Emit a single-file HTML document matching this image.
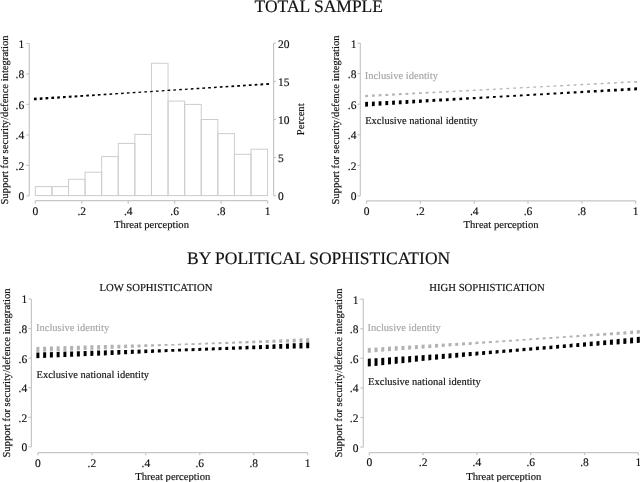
<!DOCTYPE html>
<html><head><meta charset="utf-8"><style>
html,body{margin:0;padding:0;background:#fff;width:640px;height:482px;overflow:hidden}
svg{display:block;will-change:transform;filter:blur(0.3px)}
text{font-family:"Liberation Serif",serif;text-rendering:geometricPrecision}
</style></head><body>
<svg width="640" height="482" viewBox="0 0 640 482">
<rect width="640" height="482" fill="#fff"/>
<text x="318.80" y="12.00" font-size="17.5" text-anchor="middle" fill="#111" stroke="#111" stroke-width="0.16" >TOTAL SAMPLE</text>
<text x="318.60" y="263.80" font-size="17.5" text-anchor="middle" fill="#111" stroke="#111" stroke-width="0.16" >BY POLITICAL SOPHISTICATION</text>
<rect x="35.30" y="186.60" width="16.59" height="9.00" fill="none" stroke="#cdcdcd" stroke-width="1"/>
<rect x="51.89" y="186.60" width="16.59" height="9.00" fill="none" stroke="#cdcdcd" stroke-width="1"/>
<rect x="68.49" y="179.30" width="16.59" height="16.30" fill="none" stroke="#cdcdcd" stroke-width="1"/>
<rect x="85.08" y="172.20" width="16.59" height="23.40" fill="none" stroke="#cdcdcd" stroke-width="1"/>
<rect x="101.67" y="156.60" width="16.59" height="39.00" fill="none" stroke="#cdcdcd" stroke-width="1"/>
<rect x="118.26" y="143.40" width="16.59" height="52.20" fill="none" stroke="#cdcdcd" stroke-width="1"/>
<rect x="134.86" y="134.40" width="16.59" height="61.20" fill="none" stroke="#cdcdcd" stroke-width="1"/>
<rect x="151.45" y="63.30" width="16.59" height="132.30" fill="none" stroke="#cdcdcd" stroke-width="1"/>
<rect x="168.04" y="101.10" width="16.59" height="94.50" fill="none" stroke="#cdcdcd" stroke-width="1"/>
<rect x="184.64" y="104.40" width="16.59" height="91.20" fill="none" stroke="#cdcdcd" stroke-width="1"/>
<rect x="201.23" y="119.50" width="16.59" height="76.10" fill="none" stroke="#cdcdcd" stroke-width="1"/>
<rect x="217.82" y="133.60" width="16.59" height="62.00" fill="none" stroke="#cdcdcd" stroke-width="1"/>
<rect x="234.41" y="154.30" width="16.59" height="41.30" fill="none" stroke="#cdcdcd" stroke-width="1"/>
<rect x="251.01" y="149.20" width="16.59" height="46.40" fill="none" stroke="#cdcdcd" stroke-width="1"/>
<line x1="29.30" y1="43.50" x2="29.30" y2="195.80" stroke="#c6c6c6" stroke-width="1.2"/>
<line x1="26.30" y1="195.80" x2="29.30" y2="195.80" stroke="#c6c6c6" stroke-width="1.2"/>
<text x="24.20" y="200.20" font-size="11.5" text-anchor="end" fill="#111111" stroke="#111111" stroke-width="0.16" >0</text>
<line x1="26.30" y1="165.34" x2="29.30" y2="165.34" stroke="#c6c6c6" stroke-width="1.2"/>
<text x="24.20" y="169.74" font-size="11.5" text-anchor="end" fill="#111111" stroke="#111111" stroke-width="0.16" >.2</text>
<line x1="26.30" y1="134.88" x2="29.30" y2="134.88" stroke="#c6c6c6" stroke-width="1.2"/>
<text x="24.20" y="139.28" font-size="11.5" text-anchor="end" fill="#111111" stroke="#111111" stroke-width="0.16" >.4</text>
<line x1="26.30" y1="104.42" x2="29.30" y2="104.42" stroke="#c6c6c6" stroke-width="1.2"/>
<text x="24.20" y="108.82" font-size="11.5" text-anchor="end" fill="#111111" stroke="#111111" stroke-width="0.16" >.6</text>
<line x1="26.30" y1="73.96" x2="29.30" y2="73.96" stroke="#c6c6c6" stroke-width="1.2"/>
<text x="24.20" y="78.36" font-size="11.5" text-anchor="end" fill="#111111" stroke="#111111" stroke-width="0.16" >.8</text>
<line x1="26.30" y1="43.50" x2="29.30" y2="43.50" stroke="#c6c6c6" stroke-width="1.2"/>
<text x="24.20" y="47.90" font-size="11.5" text-anchor="end" fill="#111111" stroke="#111111" stroke-width="0.16" >1</text>
<line x1="35.30" y1="200.70" x2="267.60" y2="200.70" stroke="#c6c6c6" stroke-width="1.2"/>
<line x1="35.30" y1="200.70" x2="35.30" y2="203.70" stroke="#c6c6c6" stroke-width="1.2"/>
<text x="35.30" y="215.00" font-size="11.5" text-anchor="middle" fill="#111111" stroke="#111111" stroke-width="0.16" >0</text>
<line x1="81.76" y1="200.70" x2="81.76" y2="203.70" stroke="#c6c6c6" stroke-width="1.2"/>
<text x="81.76" y="215.00" font-size="11.5" text-anchor="middle" fill="#111111" stroke="#111111" stroke-width="0.16" >.2</text>
<line x1="128.22" y1="200.70" x2="128.22" y2="203.70" stroke="#c6c6c6" stroke-width="1.2"/>
<text x="128.22" y="215.00" font-size="11.5" text-anchor="middle" fill="#111111" stroke="#111111" stroke-width="0.16" >.4</text>
<line x1="174.68" y1="200.70" x2="174.68" y2="203.70" stroke="#c6c6c6" stroke-width="1.2"/>
<text x="174.68" y="215.00" font-size="11.5" text-anchor="middle" fill="#111111" stroke="#111111" stroke-width="0.16" >.6</text>
<line x1="221.14" y1="200.70" x2="221.14" y2="203.70" stroke="#c6c6c6" stroke-width="1.2"/>
<text x="221.14" y="215.00" font-size="11.5" text-anchor="middle" fill="#111111" stroke="#111111" stroke-width="0.16" >.8</text>
<line x1="267.60" y1="200.70" x2="267.60" y2="203.70" stroke="#c6c6c6" stroke-width="1.2"/>
<text x="267.60" y="215.00" font-size="11.5" text-anchor="middle" fill="#111111" stroke="#111111" stroke-width="0.16" >1</text>
<text x="151.45" y="227.80" font-size="10.6" text-anchor="middle" fill="#111111" stroke="#111111" stroke-width="0.16" >Threat perception</text>
<text x="0" y="0" font-size="10.6" text-anchor="middle" fill="#111111" stroke="#111111" stroke-width="0.16" transform="translate(8.30,120.00) rotate(-90)">Support for security/defence integration</text>
<line x1="273.60" y1="43.20" x2="273.60" y2="195.60" stroke="#c6c6c6" stroke-width="1.2"/>
<line x1="273.60" y1="195.60" x2="275.90" y2="195.60" stroke="#c6c6c6" stroke-width="1.2"/>
<text x="277.90" y="200.00" font-size="11.5" text-anchor="start" fill="#111111" stroke="#111111" stroke-width="0.16" >0</text>
<line x1="273.60" y1="157.50" x2="275.90" y2="157.50" stroke="#c6c6c6" stroke-width="1.2"/>
<text x="277.90" y="161.90" font-size="11.5" text-anchor="start" fill="#111111" stroke="#111111" stroke-width="0.16" >5</text>
<line x1="273.60" y1="119.40" x2="275.90" y2="119.40" stroke="#c6c6c6" stroke-width="1.2"/>
<text x="277.90" y="123.80" font-size="11.5" text-anchor="start" fill="#111111" stroke="#111111" stroke-width="0.16" >10</text>
<line x1="273.60" y1="81.30" x2="275.90" y2="81.30" stroke="#c6c6c6" stroke-width="1.2"/>
<text x="277.90" y="85.70" font-size="11.5" text-anchor="start" fill="#111111" stroke="#111111" stroke-width="0.16" >15</text>
<line x1="273.60" y1="43.20" x2="275.90" y2="43.20" stroke="#c6c6c6" stroke-width="1.2"/>
<text x="277.90" y="47.60" font-size="11.5" text-anchor="start" fill="#111111" stroke="#111111" stroke-width="0.16" >20</text>
<text x="0" y="0" font-size="10.6" text-anchor="middle" fill="#111111" stroke="#111111" stroke-width="0.16" transform="translate(304.30,119.30) rotate(-90)">Percent</text>
<polygon points="33.95,97.72 36.65,97.56 36.65,100.14 33.95,100.32" fill="#000"/>
<polygon points="39.76,97.39 42.46,97.23 42.46,99.72 39.76,99.92" fill="#000"/>
<polygon points="45.56,97.06 48.27,96.90 48.27,99.30 45.56,99.50" fill="#000"/>
<polygon points="51.37,96.73 54.07,96.58 54.07,98.89 51.37,99.08" fill="#000"/>
<polygon points="57.18,96.40 59.88,96.25 59.88,98.47 57.18,98.66" fill="#000"/>
<polygon points="62.99,96.07 65.69,95.92 65.69,98.05 62.99,98.24" fill="#000"/>
<polygon points="68.80,95.74 71.50,95.59 71.50,97.63 68.80,97.83" fill="#000"/>
<polygon points="74.60,95.42 77.30,95.26 77.30,97.21 74.60,97.41" fill="#000"/>
<polygon points="80.41,95.09 83.11,94.94 83.11,96.79 80.41,96.99" fill="#000"/>
<polygon points="86.22,94.76 88.92,94.61 88.92,96.38 86.22,96.57" fill="#000"/>
<polygon points="92.03,94.43 94.72,94.27 94.72,95.96 92.03,96.15" fill="#000"/>
<polygon points="97.83,94.09 100.53,93.93 100.53,95.57 97.83,95.75" fill="#000"/>
<polygon points="103.64,93.74 106.34,93.58 106.34,95.17 103.64,95.35" fill="#000"/>
<polygon points="109.45,93.39 112.15,93.23 112.15,94.77 109.45,94.95" fill="#000"/>
<polygon points="115.26,93.04 117.95,92.88 117.95,94.37 115.26,94.56" fill="#000"/>
<polygon points="121.06,92.70 123.76,92.53 123.76,93.97 121.06,94.16" fill="#000"/>
<polygon points="126.87,92.35 129.57,92.19 129.57,93.57 126.87,93.76" fill="#000"/>
<polygon points="132.68,92.00 135.38,91.84 135.38,93.18 132.68,93.36" fill="#000"/>
<polygon points="138.49,91.65 141.19,91.49 141.19,92.78 138.49,92.96" fill="#000"/>
<polygon points="144.29,91.30 146.99,91.14 146.99,92.38 144.29,92.57" fill="#000"/>
<polygon points="150.10,90.96 152.80,90.78 152.80,91.99 150.10,92.17" fill="#000"/>
<polygon points="155.91,90.58 158.61,90.40 158.61,91.63 155.91,91.80" fill="#000"/>
<polygon points="161.72,90.19 164.41,90.01 164.41,91.27 161.72,91.44" fill="#000"/>
<polygon points="167.52,89.80 170.22,89.62 170.22,90.92 167.52,91.08" fill="#000"/>
<polygon points="173.33,89.41 176.03,89.23 176.03,90.56 173.33,90.73" fill="#000"/>
<polygon points="179.14,89.02 181.84,88.84 181.84,90.20 179.14,90.37" fill="#000"/>
<polygon points="184.95,88.64 187.65,88.46 187.65,89.84 184.95,90.01" fill="#000"/>
<polygon points="190.75,88.25 193.45,88.07 193.45,89.48 190.75,89.65" fill="#000"/>
<polygon points="196.56,87.86 199.26,87.68 199.26,89.13 196.56,89.29" fill="#000"/>
<polygon points="202.37,87.47 205.07,87.29 205.07,88.77 202.37,88.93" fill="#000"/>
<polygon points="208.17,87.08 210.87,86.90 210.87,88.41 208.17,88.58" fill="#000"/>
<polygon points="213.98,86.69 216.68,86.51 216.68,88.06 213.98,88.22" fill="#000"/>
<polygon points="219.79,86.30 222.49,86.12 222.49,87.70 219.79,87.87" fill="#000"/>
<polygon points="225.60,85.91 228.30,85.72 228.30,87.35 225.60,87.52" fill="#000"/>
<polygon points="231.41,85.51 234.10,85.33 234.10,87.00 231.41,87.16" fill="#000"/>
<polygon points="237.21,85.12 239.91,84.94 239.91,86.65 237.21,86.81" fill="#000"/>
<polygon points="243.02,84.73 245.72,84.54 245.72,86.29 243.02,86.46" fill="#000"/>
<polygon points="248.83,84.33 251.53,84.15 251.53,85.94 248.83,86.10" fill="#000"/>
<polygon points="254.64,83.94 257.34,83.76 257.34,85.59 254.64,85.75" fill="#000"/>
<polygon points="260.44,83.55 263.14,83.36 263.14,85.23 260.44,85.40" fill="#000"/>
<polygon points="266.25,83.15 268.95,82.98 268.95,84.88 266.25,85.04" fill="#000"/>
<line x1="360.30" y1="43.10" x2="360.30" y2="195.90" stroke="#c6c6c6" stroke-width="1.2"/>
<line x1="357.30" y1="195.90" x2="360.30" y2="195.90" stroke="#c6c6c6" stroke-width="1.2"/>
<text x="356.40" y="200.30" font-size="11.5" text-anchor="end" fill="#111111" stroke="#111111" stroke-width="0.16" >0</text>
<line x1="357.30" y1="165.34" x2="360.30" y2="165.34" stroke="#c6c6c6" stroke-width="1.2"/>
<text x="356.40" y="169.74" font-size="11.5" text-anchor="end" fill="#111111" stroke="#111111" stroke-width="0.16" >.2</text>
<line x1="357.30" y1="134.78" x2="360.30" y2="134.78" stroke="#c6c6c6" stroke-width="1.2"/>
<text x="356.40" y="139.18" font-size="11.5" text-anchor="end" fill="#111111" stroke="#111111" stroke-width="0.16" >.4</text>
<line x1="357.30" y1="104.22" x2="360.30" y2="104.22" stroke="#c6c6c6" stroke-width="1.2"/>
<text x="356.40" y="108.62" font-size="11.5" text-anchor="end" fill="#111111" stroke="#111111" stroke-width="0.16" >.6</text>
<line x1="357.30" y1="73.66" x2="360.30" y2="73.66" stroke="#c6c6c6" stroke-width="1.2"/>
<text x="356.40" y="78.06" font-size="11.5" text-anchor="end" fill="#111111" stroke="#111111" stroke-width="0.16" >.8</text>
<line x1="357.30" y1="43.10" x2="360.30" y2="43.10" stroke="#c6c6c6" stroke-width="1.2"/>
<text x="356.40" y="47.50" font-size="11.5" text-anchor="end" fill="#111111" stroke="#111111" stroke-width="0.16" >1</text>
<line x1="366.60" y1="200.80" x2="635.60" y2="200.80" stroke="#c6c6c6" stroke-width="1.2"/>
<line x1="366.60" y1="200.80" x2="366.60" y2="203.70" stroke="#c6c6c6" stroke-width="1.2"/>
<text x="366.60" y="214.60" font-size="11.5" text-anchor="middle" fill="#111111" stroke="#111111" stroke-width="0.16" >0</text>
<line x1="420.40" y1="200.80" x2="420.40" y2="203.70" stroke="#c6c6c6" stroke-width="1.2"/>
<text x="420.40" y="214.60" font-size="11.5" text-anchor="middle" fill="#111111" stroke="#111111" stroke-width="0.16" >.2</text>
<line x1="474.20" y1="200.80" x2="474.20" y2="203.70" stroke="#c6c6c6" stroke-width="1.2"/>
<text x="474.20" y="214.60" font-size="11.5" text-anchor="middle" fill="#111111" stroke="#111111" stroke-width="0.16" >.4</text>
<line x1="528.00" y1="200.80" x2="528.00" y2="203.70" stroke="#c6c6c6" stroke-width="1.2"/>
<text x="528.00" y="214.60" font-size="11.5" text-anchor="middle" fill="#111111" stroke="#111111" stroke-width="0.16" >.6</text>
<line x1="581.80" y1="200.80" x2="581.80" y2="203.70" stroke="#c6c6c6" stroke-width="1.2"/>
<text x="581.80" y="214.60" font-size="11.5" text-anchor="middle" fill="#111111" stroke="#111111" stroke-width="0.16" >.8</text>
<line x1="635.60" y1="200.80" x2="635.60" y2="203.70" stroke="#c6c6c6" stroke-width="1.2"/>
<text x="635.60" y="214.60" font-size="11.5" text-anchor="middle" fill="#111111" stroke="#111111" stroke-width="0.16" >1</text>
<text x="501.10" y="227.80" font-size="10.6" text-anchor="middle" fill="#111111" stroke="#111111" stroke-width="0.16" >Threat perception</text>
<text x="0" y="0" font-size="10.6" text-anchor="middle" fill="#111111" stroke="#111111" stroke-width="0.16" transform="translate(339.00,120.00) rotate(-90)">Support for security/defence integration</text>
<text x="364.70" y="78.50" font-size="10.5" text-anchor="start" fill="#a6a6a6" stroke="#a6a6a6" stroke-width="0.16" >Inclusive identity</text>
<text x="365.20" y="124.10" font-size="10.5" text-anchor="start" fill="#111111" stroke="#111111" stroke-width="0.16" >Exclusive national identity</text>
<polygon points="365.20,94.89 368.00,94.75 368.00,97.04 365.20,97.19" fill="#b2b2b2"/>
<polygon points="371.93,94.56 374.73,94.43 374.73,96.65 371.93,96.81" fill="#b2b2b2"/>
<polygon points="378.65,94.24 381.45,94.10 381.45,96.27 378.65,96.43" fill="#b2b2b2"/>
<polygon points="385.38,93.91 388.18,93.78 388.18,95.88 385.38,96.04" fill="#b2b2b2"/>
<polygon points="392.10,93.59 394.90,93.45 394.90,95.50 392.10,95.66" fill="#b2b2b2"/>
<polygon points="398.83,93.26 401.62,93.12 401.62,95.11 398.83,95.27" fill="#b2b2b2"/>
<polygon points="405.55,92.93 408.35,92.80 408.35,94.73 405.55,94.89" fill="#b2b2b2"/>
<polygon points="412.28,92.61 415.07,92.47 415.07,94.34 412.28,94.50" fill="#b2b2b2"/>
<polygon points="419.00,92.28 421.80,92.15 421.80,93.96 419.00,94.12" fill="#b2b2b2"/>
<polygon points="425.73,91.96 428.52,91.82 428.52,93.57 425.73,93.73" fill="#b2b2b2"/>
<polygon points="432.45,91.63 435.25,91.50 435.25,93.19 432.45,93.35" fill="#b2b2b2"/>
<polygon points="439.18,91.30 441.98,91.17 441.98,92.81 439.18,92.97" fill="#b2b2b2"/>
<polygon points="445.90,90.97 448.70,90.84 448.70,92.43 445.90,92.58" fill="#b2b2b2"/>
<polygon points="452.63,90.64 455.43,90.51 455.43,92.05 452.63,92.20" fill="#b2b2b2"/>
<polygon points="459.35,90.31 462.15,90.18 462.15,91.67 459.35,91.82" fill="#b2b2b2"/>
<polygon points="466.08,89.98 468.88,89.85 468.88,91.29 466.08,91.44" fill="#b2b2b2"/>
<polygon points="472.80,89.65 475.60,89.52 475.60,90.91 472.80,91.06" fill="#b2b2b2"/>
<polygon points="479.53,89.32 482.32,89.19 482.32,90.53 479.53,90.68" fill="#b2b2b2"/>
<polygon points="486.25,88.99 489.05,88.86 489.05,90.14 486.25,90.30" fill="#b2b2b2"/>
<polygon points="492.98,88.66 495.77,88.53 495.77,89.76 492.98,89.92" fill="#b2b2b2"/>
<polygon points="499.70,88.33 502.50,88.19 502.50,89.39 499.70,89.54" fill="#b2b2b2"/>
<polygon points="506.43,87.98 509.23,87.83 509.23,89.04 506.43,89.19" fill="#b2b2b2"/>
<polygon points="513.15,87.62 515.95,87.47 515.95,88.69 513.15,88.84" fill="#b2b2b2"/>
<polygon points="519.88,87.26 522.68,87.11 522.68,88.34 519.88,88.49" fill="#b2b2b2"/>
<polygon points="526.60,86.90 529.40,86.75 529.40,87.99 526.60,88.14" fill="#b2b2b2"/>
<polygon points="533.33,86.54 536.12,86.39 536.12,87.64 533.33,87.79" fill="#b2b2b2"/>
<polygon points="540.05,86.18 542.85,86.03 542.85,87.29 540.05,87.43" fill="#b2b2b2"/>
<polygon points="546.77,85.82 549.57,85.67 549.57,86.94 546.77,87.08" fill="#b2b2b2"/>
<polygon points="553.50,85.46 556.30,85.31 556.30,86.59 553.50,86.73" fill="#b2b2b2"/>
<polygon points="560.23,85.10 563.02,84.95 563.02,86.24 560.23,86.38" fill="#b2b2b2"/>
<polygon points="566.95,84.74 569.75,84.58 569.75,85.89 566.95,86.03" fill="#b2b2b2"/>
<polygon points="573.68,84.37 576.48,84.21 576.48,85.55 573.68,85.69" fill="#b2b2b2"/>
<polygon points="580.40,84.00 583.20,83.84 583.20,85.21 580.40,85.35" fill="#b2b2b2"/>
<polygon points="587.13,83.63 589.93,83.47 589.93,84.87 587.13,85.01" fill="#b2b2b2"/>
<polygon points="593.85,83.26 596.65,83.10 596.65,84.53 593.85,84.67" fill="#b2b2b2"/>
<polygon points="600.58,82.89 603.38,82.73 603.38,84.19 600.58,84.33" fill="#b2b2b2"/>
<polygon points="607.30,82.52 610.10,82.36 610.10,83.85 607.30,83.99" fill="#b2b2b2"/>
<polygon points="614.02,82.15 616.82,81.99 616.82,83.51 614.02,83.65" fill="#b2b2b2"/>
<polygon points="620.75,81.78 623.55,81.62 623.55,83.17 620.75,83.31" fill="#b2b2b2"/>
<polygon points="627.48,81.41 630.27,81.25 630.27,82.83 627.48,82.97" fill="#b2b2b2"/>
<polygon points="634.20,81.04 637.00,80.88 637.00,82.48 634.20,82.63" fill="#b2b2b2"/>
<polygon points="365.20,101.95 368.00,101.81 368.00,106.47 365.20,106.65" fill="#000"/>
<polygon points="371.93,101.63 374.73,101.51 374.73,106.01 371.93,106.20" fill="#000"/>
<polygon points="378.65,101.33 381.45,101.20 381.45,105.55 378.65,105.74" fill="#000"/>
<polygon points="385.38,101.03 388.18,100.90 388.18,105.09 385.38,105.28" fill="#000"/>
<polygon points="392.10,100.72 394.90,100.60 394.90,104.63 392.10,104.82" fill="#000"/>
<polygon points="398.83,100.42 401.62,100.30 401.62,104.16 398.83,104.36" fill="#000"/>
<polygon points="405.55,100.12 408.35,100.00 408.35,103.70 405.55,103.89" fill="#000"/>
<polygon points="412.28,99.82 415.07,99.69 415.07,103.24 412.28,103.43" fill="#000"/>
<polygon points="419.00,99.52 421.80,99.39 421.80,102.78 419.00,102.97" fill="#000"/>
<polygon points="425.73,99.21 428.52,99.09 428.52,102.32 425.73,102.51" fill="#000"/>
<polygon points="432.45,98.91 435.25,98.78 435.25,101.86 432.45,102.05" fill="#000"/>
<polygon points="439.18,98.60 441.98,98.47 441.98,101.41 439.18,101.60" fill="#000"/>
<polygon points="445.90,98.28 448.70,98.15 448.70,100.96 445.90,101.15" fill="#000"/>
<polygon points="452.63,97.96 455.43,97.83 455.43,100.52 452.63,100.70" fill="#000"/>
<polygon points="459.35,97.65 462.15,97.52 462.15,100.07 459.35,100.26" fill="#000"/>
<polygon points="466.08,97.33 468.88,97.20 468.88,99.62 466.08,99.81" fill="#000"/>
<polygon points="472.80,97.01 475.60,96.88 475.60,99.17 472.80,99.36" fill="#000"/>
<polygon points="479.53,96.70 482.32,96.57 482.32,98.73 479.53,98.91" fill="#000"/>
<polygon points="486.25,96.38 489.05,96.25 489.05,98.28 486.25,98.47" fill="#000"/>
<polygon points="492.98,96.06 495.77,95.93 495.77,97.83 492.98,98.02" fill="#000"/>
<polygon points="499.70,95.75 502.50,95.60 502.50,97.40 499.70,97.57" fill="#000"/>
<polygon points="506.43,95.37 509.23,95.20 509.23,97.04 506.43,97.19" fill="#000"/>
<polygon points="513.15,94.97 515.95,94.80 515.95,96.67 513.15,96.82" fill="#000"/>
<polygon points="519.88,94.57 522.68,94.41 522.68,96.30 519.88,96.46" fill="#000"/>
<polygon points="526.60,94.17 529.40,94.01 529.40,95.94 526.60,96.09" fill="#000"/>
<polygon points="533.33,93.78 536.12,93.61 536.12,95.57 533.33,95.72" fill="#000"/>
<polygon points="540.05,93.38 542.85,93.22 542.85,95.20 540.05,95.35" fill="#000"/>
<polygon points="546.77,92.98 549.57,92.82 549.57,94.83 546.77,94.99" fill="#000"/>
<polygon points="553.50,92.59 556.30,92.42 556.30,94.47 553.50,94.62" fill="#000"/>
<polygon points="560.23,92.19 563.02,92.02 563.02,94.10 560.23,94.25" fill="#000"/>
<polygon points="566.95,91.79 569.75,91.62 569.75,93.74 566.95,93.89" fill="#000"/>
<polygon points="573.68,91.37 576.48,91.19 576.48,93.40 573.68,93.54" fill="#000"/>
<polygon points="580.40,90.94 583.20,90.77 583.20,93.07 580.40,93.21" fill="#000"/>
<polygon points="587.13,90.52 589.93,90.34 589.93,92.73 587.13,92.87" fill="#000"/>
<polygon points="593.85,90.09 596.65,89.91 596.65,92.39 593.85,92.53" fill="#000"/>
<polygon points="600.58,89.66 603.38,89.49 603.38,92.05 600.58,92.20" fill="#000"/>
<polygon points="607.30,89.24 610.10,89.06 610.10,91.72 607.30,91.86" fill="#000"/>
<polygon points="614.02,88.81 616.82,88.63 616.82,91.38 614.02,91.52" fill="#000"/>
<polygon points="620.75,88.38 623.55,88.21 623.55,91.04 620.75,91.18" fill="#000"/>
<polygon points="627.48,87.96 630.27,87.78 630.27,90.71 627.48,90.85" fill="#000"/>
<polygon points="634.20,87.53 637.00,87.36 637.00,90.36 634.20,90.51" fill="#000"/>
<text x="155.90" y="290.90" font-size="10.7" text-anchor="middle" fill="#111111" stroke="#111111" stroke-width="0.16" >LOW SOPHISTICATION</text>
<line x1="31.40" y1="299.00" x2="31.40" y2="446.80" stroke="#c6c6c6" stroke-width="1.2"/>
<line x1="28.40" y1="446.80" x2="31.40" y2="446.80" stroke="#c6c6c6" stroke-width="1.2"/>
<text x="27.20" y="451.20" font-size="11.5" text-anchor="end" fill="#111111" stroke="#111111" stroke-width="0.16" >0</text>
<line x1="28.40" y1="417.24" x2="31.40" y2="417.24" stroke="#c6c6c6" stroke-width="1.2"/>
<text x="27.20" y="421.64" font-size="11.5" text-anchor="end" fill="#111111" stroke="#111111" stroke-width="0.16" >.2</text>
<line x1="28.40" y1="387.68" x2="31.40" y2="387.68" stroke="#c6c6c6" stroke-width="1.2"/>
<text x="27.20" y="392.08" font-size="11.5" text-anchor="end" fill="#111111" stroke="#111111" stroke-width="0.16" >.4</text>
<line x1="28.40" y1="358.12" x2="31.40" y2="358.12" stroke="#c6c6c6" stroke-width="1.2"/>
<text x="27.20" y="362.52" font-size="11.5" text-anchor="end" fill="#111111" stroke="#111111" stroke-width="0.16" >.6</text>
<line x1="28.40" y1="328.56" x2="31.40" y2="328.56" stroke="#c6c6c6" stroke-width="1.2"/>
<text x="27.20" y="332.96" font-size="11.5" text-anchor="end" fill="#111111" stroke="#111111" stroke-width="0.16" >.8</text>
<line x1="28.40" y1="299.00" x2="31.40" y2="299.00" stroke="#c6c6c6" stroke-width="1.2"/>
<text x="27.20" y="303.40" font-size="11.5" text-anchor="end" fill="#111111" stroke="#111111" stroke-width="0.16" >1</text>
<line x1="37.90" y1="452.70" x2="307.70" y2="452.70" stroke="#c6c6c6" stroke-width="1.2"/>
<line x1="37.90" y1="452.70" x2="37.90" y2="455.30" stroke="#c6c6c6" stroke-width="1.2"/>
<text x="37.90" y="466.60" font-size="11.5" text-anchor="middle" fill="#111111" stroke="#111111" stroke-width="0.16" >0</text>
<line x1="91.86" y1="452.70" x2="91.86" y2="455.30" stroke="#c6c6c6" stroke-width="1.2"/>
<text x="91.86" y="466.60" font-size="11.5" text-anchor="middle" fill="#111111" stroke="#111111" stroke-width="0.16" >.2</text>
<line x1="145.82" y1="452.70" x2="145.82" y2="455.30" stroke="#c6c6c6" stroke-width="1.2"/>
<text x="145.82" y="466.60" font-size="11.5" text-anchor="middle" fill="#111111" stroke="#111111" stroke-width="0.16" >.4</text>
<line x1="199.78" y1="452.70" x2="199.78" y2="455.30" stroke="#c6c6c6" stroke-width="1.2"/>
<text x="199.78" y="466.60" font-size="11.5" text-anchor="middle" fill="#111111" stroke="#111111" stroke-width="0.16" >.6</text>
<line x1="253.74" y1="452.70" x2="253.74" y2="455.30" stroke="#c6c6c6" stroke-width="1.2"/>
<text x="253.74" y="466.60" font-size="11.5" text-anchor="middle" fill="#111111" stroke="#111111" stroke-width="0.16" >.8</text>
<line x1="307.70" y1="452.70" x2="307.70" y2="455.30" stroke="#c6c6c6" stroke-width="1.2"/>
<text x="307.70" y="466.60" font-size="11.5" text-anchor="middle" fill="#111111" stroke="#111111" stroke-width="0.16" >1</text>
<text x="172.80" y="480.00" font-size="10.6" text-anchor="middle" fill="#111111" stroke="#111111" stroke-width="0.16" >Threat perception</text>
<text x="0" y="0" font-size="10.6" text-anchor="middle" fill="#111111" stroke="#111111" stroke-width="0.16" transform="translate(10.30,373.00) rotate(-90)">Support for security/defence integration</text>
<text x="36.00" y="331.30" font-size="10.5" text-anchor="start" fill="#a6a6a6" stroke="#a6a6a6" stroke-width="0.16" >Inclusive identity</text>
<text x="36.50" y="377.90" font-size="10.5" text-anchor="start" fill="#111111" stroke="#111111" stroke-width="0.16" >Exclusive national identity</text>
<polygon points="36.40,346.95 39.40,346.86 39.40,351.84 36.40,351.95" fill="#b2b2b2"/>
<polygon points="43.14,346.75 46.14,346.66 46.14,351.57 43.14,351.69" fill="#b2b2b2"/>
<polygon points="49.89,346.55 52.89,346.46 52.89,351.30 49.89,351.42" fill="#b2b2b2"/>
<polygon points="56.64,346.35 59.64,346.26 59.64,351.04 56.64,351.16" fill="#b2b2b2"/>
<polygon points="63.38,346.15 66.38,346.06 66.38,350.77 63.38,350.89" fill="#b2b2b2"/>
<polygon points="70.12,345.95 73.12,345.87 73.12,350.50 70.12,350.62" fill="#b2b2b2"/>
<polygon points="76.87,345.76 79.87,345.67 79.87,350.23 76.87,350.35" fill="#b2b2b2"/>
<polygon points="83.62,345.56 86.62,345.47 86.62,349.97 83.62,350.08" fill="#b2b2b2"/>
<polygon points="90.36,345.36 93.36,345.27 93.36,349.70 90.36,349.82" fill="#b2b2b2"/>
<polygon points="97.11,345.16 100.11,345.08 100.11,349.43 97.11,349.55" fill="#b2b2b2"/>
<polygon points="103.85,344.97 106.85,344.90 106.85,349.14 103.85,349.28" fill="#b2b2b2"/>
<polygon points="110.59,344.85 113.59,344.80 113.59,348.77 110.59,348.94" fill="#b2b2b2"/>
<polygon points="117.34,344.75 120.34,344.70 120.34,348.40 117.34,348.57" fill="#b2b2b2"/>
<polygon points="124.09,344.65 127.09,344.61 127.09,348.04 124.09,348.20" fill="#b2b2b2"/>
<polygon points="130.83,344.55 133.83,344.51 133.83,347.67 130.83,347.83" fill="#b2b2b2"/>
<polygon points="137.57,344.45 140.57,344.41 140.57,347.30 137.57,347.46" fill="#b2b2b2"/>
<polygon points="144.32,344.36 147.32,344.31 147.32,346.93 144.32,347.10" fill="#b2b2b2"/>
<polygon points="151.06,344.26 154.06,344.22 154.06,346.57 151.06,346.73" fill="#b2b2b2"/>
<polygon points="157.81,344.16 160.81,344.12 160.81,346.20 157.81,346.36" fill="#b2b2b2"/>
<polygon points="164.56,344.06 167.56,344.02 167.56,345.83 164.56,345.99" fill="#b2b2b2"/>
<polygon points="171.30,343.97 174.30,343.89 174.30,345.50 171.30,345.63" fill="#b2b2b2"/>
<polygon points="178.05,343.74 181.05,343.62 181.05,345.30 178.05,345.39" fill="#b2b2b2"/>
<polygon points="184.79,343.48 187.79,343.36 187.79,345.09 184.79,345.18" fill="#b2b2b2"/>
<polygon points="191.54,343.21 194.54,343.10 194.54,344.89 191.54,344.98" fill="#b2b2b2"/>
<polygon points="198.28,342.95 201.28,342.83 201.28,344.69 198.28,344.78" fill="#b2b2b2"/>
<polygon points="205.03,342.69 208.03,342.57 208.03,344.49 205.03,344.58" fill="#b2b2b2"/>
<polygon points="211.77,342.43 214.77,342.31 214.77,344.28 211.77,344.37" fill="#b2b2b2"/>
<polygon points="218.52,342.16 221.52,342.05 221.52,344.08 218.52,344.17" fill="#b2b2b2"/>
<polygon points="225.26,341.90 228.26,341.78 228.26,343.88 225.26,343.97" fill="#b2b2b2"/>
<polygon points="232.01,341.64 235.01,341.52 235.01,343.67 232.01,343.76" fill="#b2b2b2"/>
<polygon points="238.75,341.37 241.75,341.24 241.75,343.48 238.75,343.56" fill="#b2b2b2"/>
<polygon points="245.50,341.07 248.50,340.92 248.50,343.34 245.50,343.41" fill="#b2b2b2"/>
<polygon points="252.24,340.74 255.24,340.60 255.24,343.20 252.24,343.26" fill="#b2b2b2"/>
<polygon points="258.98,340.42 261.98,340.28 261.98,343.06 258.98,343.12" fill="#b2b2b2"/>
<polygon points="265.73,340.10 268.73,339.95 268.73,342.91 265.73,342.98" fill="#b2b2b2"/>
<polygon points="272.47,339.77 275.47,339.63 275.47,342.77 272.47,342.83" fill="#b2b2b2"/>
<polygon points="279.22,339.45 282.22,339.31 282.22,342.63 279.22,342.69" fill="#b2b2b2"/>
<polygon points="285.96,339.13 288.96,338.98 288.96,342.49 285.96,342.55" fill="#b2b2b2"/>
<polygon points="292.71,338.81 295.71,338.66 295.71,342.34 292.71,342.41" fill="#b2b2b2"/>
<polygon points="299.45,338.48 302.45,338.34 302.45,342.20 299.45,342.26" fill="#b2b2b2"/>
<polygon points="306.20,338.16 309.20,338.04 309.20,342.04 306.20,342.12" fill="#b2b2b2"/>
<polygon points="36.40,352.57 39.40,352.46 39.40,358.05 36.40,358.17" fill="#000"/>
<polygon points="43.14,352.34 46.14,352.25 46.14,357.77 43.14,357.90" fill="#000"/>
<polygon points="49.89,352.13 52.89,352.03 52.89,357.49 49.89,357.62" fill="#000"/>
<polygon points="56.64,351.91 59.64,351.81 59.64,357.22 56.64,357.34" fill="#000"/>
<polygon points="63.38,351.69 66.38,351.59 66.38,356.94 63.38,357.06" fill="#000"/>
<polygon points="70.12,351.47 73.12,351.38 73.12,356.66 70.12,356.79" fill="#000"/>
<polygon points="76.87,351.25 79.87,351.16 79.87,356.38 76.87,356.51" fill="#000"/>
<polygon points="83.62,351.04 86.62,350.94 86.62,356.11 83.62,356.23" fill="#000"/>
<polygon points="90.36,350.82 93.36,350.72 93.36,355.83 90.36,355.95" fill="#000"/>
<polygon points="97.11,350.60 100.11,350.51 100.11,355.55 97.11,355.68" fill="#000"/>
<polygon points="103.85,350.38 106.85,350.31 106.85,355.26 103.85,355.40" fill="#000"/>
<polygon points="110.59,350.23 113.59,350.17 113.59,354.90 110.59,355.06" fill="#000"/>
<polygon points="117.34,350.09 120.34,350.03 120.34,354.54 117.34,354.70" fill="#000"/>
<polygon points="124.09,349.95 127.09,349.89 127.09,354.18 124.09,354.34" fill="#000"/>
<polygon points="130.83,349.82 133.83,349.76 133.83,353.83 130.83,353.99" fill="#000"/>
<polygon points="137.57,349.68 140.57,349.62 140.57,353.47 137.57,353.63" fill="#000"/>
<polygon points="144.32,349.54 147.32,349.48 147.32,353.11 144.32,353.27" fill="#000"/>
<polygon points="151.06,349.40 154.06,349.34 154.06,352.75 151.06,352.91" fill="#000"/>
<polygon points="157.81,349.27 160.81,349.21 160.81,352.40 157.81,352.56" fill="#000"/>
<polygon points="164.56,349.13 167.56,349.07 167.56,352.04 164.56,352.20" fill="#000"/>
<polygon points="171.30,348.99 174.30,348.90 174.30,351.71 171.30,351.84" fill="#000"/>
<polygon points="178.05,348.75 181.05,348.63 181.05,351.48 178.05,351.58" fill="#000"/>
<polygon points="184.79,348.48 187.79,348.37 187.79,351.25 184.79,351.36" fill="#000"/>
<polygon points="191.54,348.22 194.54,348.10 194.54,351.03 191.54,351.13" fill="#000"/>
<polygon points="198.28,347.95 201.28,347.83 201.28,350.80 198.28,350.90" fill="#000"/>
<polygon points="205.03,347.68 208.03,347.56 208.03,350.57 205.03,350.67" fill="#000"/>
<polygon points="211.77,347.41 214.77,347.30 214.77,350.34 211.77,350.45" fill="#000"/>
<polygon points="218.52,347.15 221.52,347.03 221.52,350.12 218.52,350.22" fill="#000"/>
<polygon points="225.26,346.88 228.26,346.76 228.26,349.89 225.26,349.99" fill="#000"/>
<polygon points="232.01,346.61 235.01,346.49 235.01,349.66 232.01,349.76" fill="#000"/>
<polygon points="238.75,346.34 241.75,346.20 241.75,349.46 238.75,349.54" fill="#000"/>
<polygon points="245.50,345.99 248.50,345.82 248.50,349.34 245.50,349.39" fill="#000"/>
<polygon points="252.24,345.61 255.24,345.45 255.24,349.22 252.24,349.28" fill="#000"/>
<polygon points="258.98,345.24 261.98,345.07 261.98,349.11 258.98,349.16" fill="#000"/>
<polygon points="265.73,344.86 268.73,344.69 268.73,348.99 265.73,349.04" fill="#000"/>
<polygon points="272.47,344.48 275.47,344.31 275.47,348.87 272.47,348.92" fill="#000"/>
<polygon points="279.22,344.10 282.22,343.94 282.22,348.75 279.22,348.81" fill="#000"/>
<polygon points="285.96,343.73 288.96,343.56 288.96,348.64 285.96,348.69" fill="#000"/>
<polygon points="292.71,343.35 295.71,343.18 295.71,348.52 292.71,348.57" fill="#000"/>
<polygon points="299.45,342.97 302.45,342.80 302.45,348.40 299.45,348.45" fill="#000"/>
<polygon points="306.20,342.59 309.20,342.45 309.20,348.25 306.20,348.34" fill="#000"/>
<text x="487.00" y="290.80" font-size="10.7" text-anchor="middle" fill="#111111" stroke="#111111" stroke-width="0.16" >HIGH SOPHISTICATION</text>
<line x1="363.30" y1="299.10" x2="363.30" y2="447.10" stroke="#c6c6c6" stroke-width="1.2"/>
<line x1="360.30" y1="447.10" x2="363.30" y2="447.10" stroke="#c6c6c6" stroke-width="1.2"/>
<text x="358.40" y="451.50" font-size="11.5" text-anchor="end" fill="#111111" stroke="#111111" stroke-width="0.16" >0</text>
<line x1="360.30" y1="417.50" x2="363.30" y2="417.50" stroke="#c6c6c6" stroke-width="1.2"/>
<text x="358.40" y="421.90" font-size="11.5" text-anchor="end" fill="#111111" stroke="#111111" stroke-width="0.16" >.2</text>
<line x1="360.30" y1="387.90" x2="363.30" y2="387.90" stroke="#c6c6c6" stroke-width="1.2"/>
<text x="358.40" y="392.30" font-size="11.5" text-anchor="end" fill="#111111" stroke="#111111" stroke-width="0.16" >.4</text>
<line x1="360.30" y1="358.30" x2="363.30" y2="358.30" stroke="#c6c6c6" stroke-width="1.2"/>
<text x="358.40" y="362.70" font-size="11.5" text-anchor="end" fill="#111111" stroke="#111111" stroke-width="0.16" >.6</text>
<line x1="360.30" y1="328.70" x2="363.30" y2="328.70" stroke="#c6c6c6" stroke-width="1.2"/>
<text x="358.40" y="333.10" font-size="11.5" text-anchor="end" fill="#111111" stroke="#111111" stroke-width="0.16" >.8</text>
<line x1="360.30" y1="299.10" x2="363.30" y2="299.10" stroke="#c6c6c6" stroke-width="1.2"/>
<text x="358.40" y="303.50" font-size="11.5" text-anchor="end" fill="#111111" stroke="#111111" stroke-width="0.16" >1</text>
<line x1="369.30" y1="452.60" x2="638.30" y2="452.60" stroke="#c6c6c6" stroke-width="1.2"/>
<line x1="369.30" y1="452.60" x2="369.30" y2="455.20" stroke="#c6c6c6" stroke-width="1.2"/>
<text x="369.30" y="466.30" font-size="11.5" text-anchor="middle" fill="#111111" stroke="#111111" stroke-width="0.16" >0</text>
<line x1="423.10" y1="452.60" x2="423.10" y2="455.20" stroke="#c6c6c6" stroke-width="1.2"/>
<text x="423.10" y="466.30" font-size="11.5" text-anchor="middle" fill="#111111" stroke="#111111" stroke-width="0.16" >.2</text>
<line x1="476.90" y1="452.60" x2="476.90" y2="455.20" stroke="#c6c6c6" stroke-width="1.2"/>
<text x="476.90" y="466.30" font-size="11.5" text-anchor="middle" fill="#111111" stroke="#111111" stroke-width="0.16" >.4</text>
<line x1="530.70" y1="452.60" x2="530.70" y2="455.20" stroke="#c6c6c6" stroke-width="1.2"/>
<text x="530.70" y="466.30" font-size="11.5" text-anchor="middle" fill="#111111" stroke="#111111" stroke-width="0.16" >.6</text>
<line x1="584.50" y1="452.60" x2="584.50" y2="455.20" stroke="#c6c6c6" stroke-width="1.2"/>
<text x="584.50" y="466.30" font-size="11.5" text-anchor="middle" fill="#111111" stroke="#111111" stroke-width="0.16" >.8</text>
<line x1="638.30" y1="452.60" x2="638.30" y2="455.20" stroke="#c6c6c6" stroke-width="1.2"/>
<text x="638.30" y="466.30" font-size="11.5" text-anchor="middle" fill="#111111" stroke="#111111" stroke-width="0.16" >1</text>
<text x="503.80" y="480.00" font-size="10.6" text-anchor="middle" fill="#111111" stroke="#111111" stroke-width="0.16" >Threat perception</text>
<text x="0" y="0" font-size="10.6" text-anchor="middle" fill="#111111" stroke="#111111" stroke-width="0.16" transform="translate(341.80,373.00) rotate(-90)">Support for security/defence integration</text>
<text x="367.50" y="331.30" font-size="10.5" text-anchor="start" fill="#a6a6a6" stroke="#a6a6a6" stroke-width="0.16" >Inclusive identity</text>
<text x="368.10" y="385.30" font-size="10.5" text-anchor="start" fill="#111111" stroke="#111111" stroke-width="0.16" >Exclusive national identity</text>
<polygon points="367.80,347.96 370.80,347.77 370.80,352.64 367.80,352.86" fill="#b2b2b2"/>
<polygon points="374.53,347.55 377.53,347.38 377.53,352.12 374.53,352.35" fill="#b2b2b2"/>
<polygon points="381.25,347.16 384.25,346.98 384.25,351.59 381.25,351.83" fill="#b2b2b2"/>
<polygon points="387.98,346.76 390.98,346.59 390.98,351.07 387.98,351.30" fill="#b2b2b2"/>
<polygon points="394.70,346.37 397.70,346.19 397.70,350.55 394.70,350.78" fill="#b2b2b2"/>
<polygon points="401.43,345.98 404.43,345.80 404.43,350.02 401.43,350.26" fill="#b2b2b2"/>
<polygon points="408.15,345.58 411.15,345.41 411.15,349.50 408.15,349.73" fill="#b2b2b2"/>
<polygon points="414.88,345.19 417.88,345.01 417.88,348.97 414.88,349.21" fill="#b2b2b2"/>
<polygon points="421.60,344.80 424.60,344.62 424.60,348.45 421.60,348.68" fill="#b2b2b2"/>
<polygon points="428.32,344.40 431.32,344.23 431.32,347.93 428.32,348.16" fill="#b2b2b2"/>
<polygon points="435.05,344.01 438.05,343.84 438.05,347.40 435.05,347.64" fill="#b2b2b2"/>
<polygon points="441.77,343.63 444.77,343.47 444.77,346.85 441.77,347.09" fill="#b2b2b2"/>
<polygon points="448.50,343.26 451.50,343.10 451.50,346.30 448.50,346.54" fill="#b2b2b2"/>
<polygon points="455.23,342.90 458.23,342.73 458.23,345.75 455.23,346.00" fill="#b2b2b2"/>
<polygon points="461.95,342.53 464.95,342.36 464.95,345.20 461.95,345.45" fill="#b2b2b2"/>
<polygon points="468.67,342.16 471.67,341.99 471.67,344.65 468.67,344.90" fill="#b2b2b2"/>
<polygon points="475.40,341.79 478.40,341.62 478.40,344.10 475.40,344.35" fill="#b2b2b2"/>
<polygon points="482.12,341.42 485.12,341.26 485.12,343.56 482.12,343.80" fill="#b2b2b2"/>
<polygon points="488.85,341.05 491.85,340.89 491.85,343.01 488.85,343.25" fill="#b2b2b2"/>
<polygon points="495.57,340.68 498.57,340.52 498.57,342.46 495.57,342.70" fill="#b2b2b2"/>
<polygon points="502.30,340.31 505.30,340.13 505.30,341.93 502.30,342.15" fill="#b2b2b2"/>
<polygon points="509.02,339.87 512.02,339.66 512.02,341.48 509.02,341.68" fill="#b2b2b2"/>
<polygon points="515.75,339.41 518.75,339.20 518.75,341.02 515.75,341.23" fill="#b2b2b2"/>
<polygon points="522.48,338.94 525.48,338.74 525.48,340.57 522.48,340.77" fill="#b2b2b2"/>
<polygon points="529.20,338.48 532.20,338.27 532.20,340.12 529.20,340.32" fill="#b2b2b2"/>
<polygon points="535.92,338.02 538.92,337.81 538.92,339.66 535.92,339.86" fill="#b2b2b2"/>
<polygon points="542.65,337.55 545.65,337.35 545.65,339.21 542.65,339.41" fill="#b2b2b2"/>
<polygon points="549.38,337.09 552.38,336.88 552.38,338.75 549.38,338.96" fill="#b2b2b2"/>
<polygon points="556.10,336.63 559.10,336.42 559.10,338.30 556.10,338.50" fill="#b2b2b2"/>
<polygon points="562.82,336.16 565.82,335.95 565.82,337.85 562.82,338.05" fill="#b2b2b2"/>
<polygon points="569.55,335.70 572.55,335.47 572.55,337.41 569.55,337.60" fill="#b2b2b2"/>
<polygon points="576.27,335.18 579.27,334.94 579.27,337.03 576.27,337.20" fill="#b2b2b2"/>
<polygon points="583.00,334.64 586.00,334.40 586.00,336.65 583.00,336.82" fill="#b2b2b2"/>
<polygon points="589.72,334.10 592.72,333.86 592.72,336.27 589.72,336.44" fill="#b2b2b2"/>
<polygon points="596.45,333.56 599.45,333.32 599.45,335.89 596.45,336.06" fill="#b2b2b2"/>
<polygon points="603.17,333.02 606.17,332.78 606.17,335.52 603.17,335.68" fill="#b2b2b2"/>
<polygon points="609.90,332.48 612.90,332.24 612.90,335.14 609.90,335.31" fill="#b2b2b2"/>
<polygon points="616.62,331.94 619.62,331.70 619.62,334.76 616.62,334.93" fill="#b2b2b2"/>
<polygon points="623.35,331.40 626.35,331.16 626.35,334.38 623.35,334.55" fill="#b2b2b2"/>
<polygon points="630.08,330.86 633.08,330.62 633.08,334.00 630.08,334.17" fill="#b2b2b2"/>
<polygon points="636.80,330.33 639.80,330.10 639.80,333.60 636.80,333.79" fill="#b2b2b2"/>
<polygon points="367.80,358.82 370.80,358.59 370.80,366.34 367.80,366.62" fill="#000"/>
<polygon points="374.53,358.35 377.53,358.15 377.53,365.65 374.53,365.96" fill="#000"/>
<polygon points="381.25,357.91 384.25,357.71 384.25,364.96 381.25,365.26" fill="#000"/>
<polygon points="387.98,357.47 390.98,357.27 390.98,364.26 387.98,364.57" fill="#000"/>
<polygon points="394.70,357.03 397.70,356.83 397.70,363.57 394.70,363.88" fill="#000"/>
<polygon points="401.43,356.58 404.43,356.39 404.43,362.88 401.43,363.19" fill="#000"/>
<polygon points="408.15,356.14 411.15,355.95 411.15,362.19 408.15,362.50" fill="#000"/>
<polygon points="414.88,355.70 417.88,355.51 417.88,361.50 414.88,361.81" fill="#000"/>
<polygon points="421.60,355.26 424.60,355.06 424.60,360.81 421.60,361.12" fill="#000"/>
<polygon points="428.32,354.82 431.32,354.62 431.32,360.12 428.32,360.43" fill="#000"/>
<polygon points="435.05,354.38 438.05,354.18 438.05,359.43 435.05,359.74" fill="#000"/>
<polygon points="441.77,353.93 444.77,353.72 444.77,358.75 441.77,359.06" fill="#000"/>
<polygon points="448.50,353.47 451.50,353.27 451.50,358.08 448.50,358.38" fill="#000"/>
<polygon points="455.23,353.01 458.23,352.81 458.23,357.40 455.23,357.70" fill="#000"/>
<polygon points="461.95,352.56 464.95,352.35 464.95,356.73 461.95,357.03" fill="#000"/>
<polygon points="468.67,352.10 471.67,351.90 471.67,356.05 468.67,356.35" fill="#000"/>
<polygon points="475.40,351.65 478.40,351.44 478.40,355.37 475.40,355.68" fill="#000"/>
<polygon points="482.12,351.19 485.12,350.99 485.12,354.70 482.12,355.00" fill="#000"/>
<polygon points="488.85,350.73 491.85,350.53 491.85,354.02 488.85,354.32" fill="#000"/>
<polygon points="495.57,350.28 498.57,350.07 498.57,353.35 495.57,353.65" fill="#000"/>
<polygon points="502.30,349.82 505.30,349.59 505.30,352.70 502.30,352.97" fill="#000"/>
<polygon points="509.02,349.26 512.02,348.99 512.02,352.16 509.02,352.40" fill="#000"/>
<polygon points="515.75,348.66 518.75,348.39 518.75,351.63 515.75,351.87" fill="#000"/>
<polygon points="522.48,348.06 525.48,347.80 525.48,351.09 522.48,351.33" fill="#000"/>
<polygon points="529.20,347.47 532.20,347.20 532.20,350.56 529.20,350.80" fill="#000"/>
<polygon points="535.92,346.87 538.92,346.61 538.92,350.02 535.92,350.26" fill="#000"/>
<polygon points="542.65,346.28 545.65,346.01 545.65,349.48 542.65,349.72" fill="#000"/>
<polygon points="549.38,345.68 552.38,345.41 552.38,348.95 549.38,349.19" fill="#000"/>
<polygon points="556.10,345.08 559.10,344.82 559.10,348.41 556.10,348.65" fill="#000"/>
<polygon points="562.82,344.49 565.82,344.22 565.82,347.88 562.82,348.11" fill="#000"/>
<polygon points="569.55,343.89 572.55,343.61 572.55,347.36 569.55,347.58" fill="#000"/>
<polygon points="576.27,343.23 579.27,342.93 579.27,346.91 576.27,347.11" fill="#000"/>
<polygon points="583.00,342.55 586.00,342.24 586.00,346.46 583.00,346.66" fill="#000"/>
<polygon points="589.72,341.87 592.72,341.56 592.72,346.01 589.72,346.21" fill="#000"/>
<polygon points="596.45,341.19 599.45,340.88 599.45,345.55 596.45,345.76" fill="#000"/>
<polygon points="603.17,340.51 606.17,340.20 606.17,345.10 603.17,345.30" fill="#000"/>
<polygon points="609.90,339.82 612.90,339.52 612.90,344.65 609.90,344.85" fill="#000"/>
<polygon points="616.62,339.14 619.62,338.84 619.62,344.20 616.62,344.40" fill="#000"/>
<polygon points="623.35,338.46 626.35,338.16 626.35,343.75 623.35,343.95" fill="#000"/>
<polygon points="630.08,337.78 633.08,337.48 633.08,343.30 630.08,343.50" fill="#000"/>
<polygon points="636.80,337.10 639.80,336.82 639.80,342.82 636.80,343.05" fill="#000"/>
</svg>
</body></html>
